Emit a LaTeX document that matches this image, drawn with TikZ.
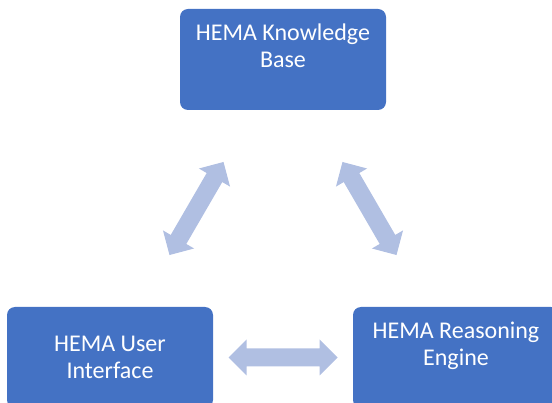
\documentclass[tikz,border=0pt]{standalone}
\usepackage{fontspec}
\setmainfont{Carlito}
\usetikzlibrary{calc}
\definecolor{boxblue}{HTML}{4472C4}
\definecolor{arrowblue}{HTML}{B0BFE2}
\tikzset{
  hemabox/.style={fill=boxblue, rounded corners=8pt, minimum width=206pt,
    minimum height=101pt, inner sep=0pt, align=center, text=white,
    font=\fontsize{24}{27}\selectfont},
  hemaarrowfill/.style={fill=arrowblue, draw=none}
}
% #1 prefix, #2 from node, #3 to node
\newcommand{\hemaarrow}[3]{%
  \coordinate (#1s) at ($(#2.center)!118.5pt!(#3.center)$);
  \coordinate (#1e) at ($(#3.center)!118.5pt!(#2.center)$);
  \coordinate (#1hs) at ($(#1s)!18pt!(#1e)$);
  \coordinate (#1he) at ($(#1e)!18pt!(#1s)$);
  \fill[hemaarrowfill] (#1s)
    -- ($(#1hs)!18pt!90:(#1e)$) -- ($(#1hs)!9pt!90:(#1e)$)
    -- ($(#1he)!9pt!-90:(#1s)$) -- ($(#1he)!18pt!-90:(#1s)$)
    -- (#1e)
    -- ($(#1he)!18pt!90:(#1s)$) -- ($(#1he)!9pt!90:(#1s)$)
    -- ($(#1hs)!9pt!-90:(#1e)$) -- ($(#1hs)!18pt!-90:(#1e)$)
    -- cycle;
}
\begin{document}
\begin{tikzpicture}[x=1pt,y=-1pt]
  \useasboundingbox (0,0) rectangle (552,403);
  \clip (0,0) rectangle (552,403);
  \node[hemabox] (kb) at (283,59.5) {HEMA Knowledge\\Base\\\mbox{}};
  \node[hemabox] (ui) at (110,357.5) {HEMA User\\Interface};
  \node[hemabox] (re) at (456,357.5) {HEMA Reasoning\\Engine\\\mbox{}};
  \hemaarrow{a}{kb}{ui}
  \hemaarrow{b}{kb}{re}
  \hemaarrow{c}{ui}{re}
\end{tikzpicture}
\end{document}
